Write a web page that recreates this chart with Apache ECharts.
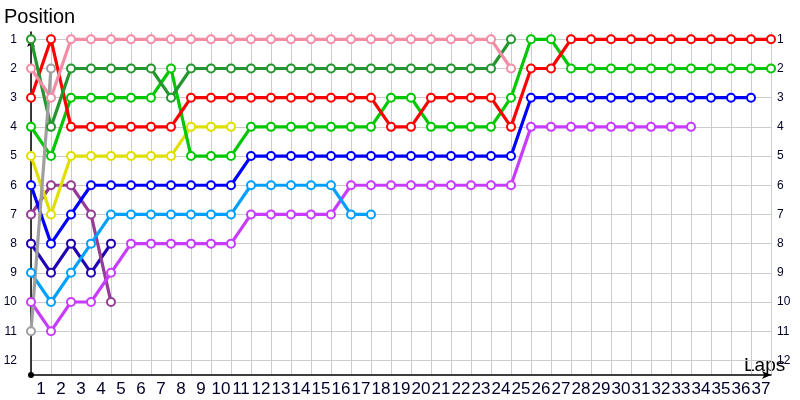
<!DOCTYPE html>
<html>
<head>
<meta charset="utf-8">
<script src="https://cdn.jsdelivr.net/npm/echarts@6/dist/echarts.min.js"></script>
<style>
  html, body { margin: 0; padding: 0; background: #fff; }
  #chart { width: 800px; height: 400px; }
</style>
</head>
<body>
<div id="chart"></div>
<script>
// Lap numbers shown under the x axis (label k sits between lap k-1 and lap k)
const lapLabels = [1,2,3,4,5,6,7,8,9,10,11,12,13,14,15,16,17,18,19,20,21,22,23,24,25,26,27,28,29,30,31,32,33,34,35,36,37];
// Position tick labels
const positionTicks = [1,2,3,4,5,6,7,8,9,10,11,12];

// Positions per lap, starting at lap 0
const pink      = [2,3,1,1,1,1,1,1,1,1,1,1,1,1,1,1,1,1,1,1,1,1,1,1,2];
const red       = [3,1,4,4,4,4,4,4,3,3,3,3,3,3,3,3,3,3,4,4,3,3,3,3,4,2,2,1,1,1,1,1,1,1,1,1,1,1];
const darkGreen = [1,4,2,2,2,2,2,3,2,2,2,2,2,2,2,2,2,2,2,2,2,2,2,2,1];
const green     = [4,5,3,3,3,3,3,2,5,5,5,4,4,4,4,4,4,4,3,3,4,4,4,4,3,1,1,2,2,2,2,2,2,2,2,2,2,2];
const yellow    = [5,7,5,5,5,5,5,5,4,4,4];
const blue      = [6,8,7,6,6,6,6,6,6,6,6,5,5,5,5,5,5,5,5,5,5,5,5,5,5,3,3,3,3,3,3,3,3,3,3,3,3];
const lightBlue = [9,10,9,8,7,7,7,7,7,7,7,6,6,6,6,6,7,7];
const violet    = [10,11,10,10,9,8,8,8,8,8,8,7,7,7,7,7,6,6,6,6,6,6,6,6,6,4,4,4,4,4,4,4,4,4];
const purple    = [7,6,6,7,10];
const navy      = [8,9,8,9,8];
const gray      = [11,2];

const drivers = [
  { name: 'Navy',       data: navy,      color: '#2200b4' },
  { name: 'Purple',     data: purple,    color: '#963c96' },
  { name: 'Violet',     data: violet,    color: '#c83cff' },
  { name: 'LightBlue',  data: lightBlue, color: '#00a0ff' },
  { name: 'Blue',       data: blue,      color: '#0000ff' },
  { name: 'Yellow',     data: yellow,    color: '#e0e000' },
  { name: 'Green',      data: green,     color: '#00c800' },
  { name: 'Red',        data: red,       color: '#ff0000' },
  { name: 'DarkGreen',  data: darkGreen, color: '#23962d' },
  { name: 'Pink',       data: pink,      color: '#f58ca5' },
  { name: 'Gray',       data: gray,      color: '#a0a0a0' }
];

const chart = echarts.init(document.getElementById('chart'), null, { renderer: 'canvas' });

const series = drivers.map(d => ({
  type: 'line',
  name: d.name,
  data: d.data.map((p, lap) => [lap, p]),
  symbol: 'emptyCircle',
  symbolSize: 8,
  showAllSymbol: true,
  clip: false,
  lineStyle: { color: d.color, width: 3.2 },
  itemStyle: { color: d.color, borderWidth: 1.5 },
  emphasis: { disabled: true },
  animation: false
}));

const labelFont = 'Liberation Sans';

chart.setOption({
  animation: false,
  backgroundColor: '#ffffff',
  grid: { left: 31, right: 29, top: 32, bottom: 25, containLabel: false, outerBoundsMode: 'none' },
  xAxis: {
    type: 'value',
    min: 0,
    max: 37,
    interval: 1,
    axisLine: { show: true, lineStyle: { color: '#000', width: 1.5 }, symbol: ['circle', 'arrow'], symbolSize: [6, 9] },
    axisTick: { show: false },
    splitLine: { show: true, lineStyle: { color: '#cccccc', width: 1 } },
    axisLabel: {
      customValues: lapLabels.map(v => v - 0.5),
      formatter: v => String(Math.round(v + 0.5)),
      fontFamily: labelFont,
      fontSize: 17,
      color: '#000028',
      margin: 6,
      hideOverlap: false
    }
  },
  yAxis: [
    {
      type: 'value',
      inverse: true,
      min: 0.75,
      max: 12.5,
      position: 'left',
      axisLine: { show: true, onZero: false, lineStyle: { color: '#000', width: 1.5 }, symbol: ['none', 'arrow'], symbolSize: [6, 9], symbolOffset: [0, -6] },
      axisTick: { show: false, customValues: positionTicks },
      splitLine: { show: true, lineStyle: { color: '#cccccc', width: 1 } },
      axisLabel: {
        customValues: positionTicks,
        fontFamily: labelFont,
        fontSize: 12,
        color: '#000028',
        margin: 14
      }
    },
    {
      type: 'value',
      inverse: true,
      min: 0.75,
      max: 12.5,
      position: 'right',
      axisLine: { show: false },
      axisTick: { show: false, customValues: positionTicks },
      splitLine: { show: false },
      axisLabel: {
        customValues: positionTicks,
        fontFamily: labelFont,
        fontSize: 12,
        color: '#000028',
        margin: 6
      }
    }
  ],
  graphic: [
    { type: 'text', left: 4, top: 7, style: { text: 'Position', font: '20px "Liberation Sans"', fill: '#000' } },
    { type: 'text', left: 744, top: 356, style: { text: 'Laps', font: '19px "Liberation Sans"', fill: '#000' } }
  ],
  series: series
});
</script>
</body>
</html>
